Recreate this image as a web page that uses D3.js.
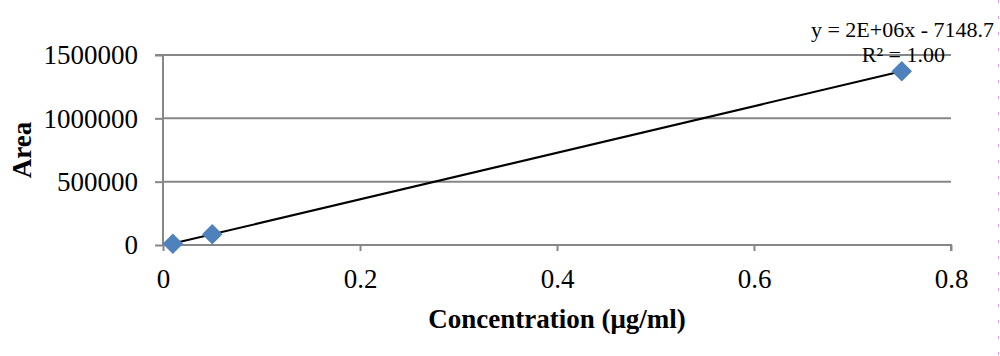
<!DOCTYPE html>
<html><head><meta charset="utf-8">
<script src="https://cdn.jsdelivr.net/npm/d3@7"></script>
<style>body{margin:0;background:#fff}svg{display:block}</style>
</head><body><svg id="c" width="1000" height="356"></svg>
<script>
const concentrations = [0.01, 0.05, 0.75];
const areas = [10000, 85000, 1372000];
const xTicks = [0, 0.2, 0.4, 0.6, 0.8];
const yTicks = [0, 500000, 1000000, 1500000];
const slope = 1838000, intercept = -7148.7;
const equationText = "y = 2E+06x - 7148.7";
const r2Text = "R\u00B2 = 1.00";

const svg = d3.select("#c");
const font = "'Liberation Serif','Times New Roman',serif";
const x = d3.scaleLinear().domain([0, 0.8]).range([163, 951]);
const y = d3.scaleLinear().domain([0, 1500000]).range([245, 55]);
const grid = "#878787";

// gridlines
svg.append("g").selectAll("line").data(yTicks.filter(d => d > 0)).join("line")
  .attr("x1", x(0)).attr("x2", x(0.8)).attr("y1", d => y(d)).attr("y2", d => y(d))
  .attr("stroke", grid).attr("stroke-width", 2);

// y axis
const ya = svg.append("g").attr("transform", `translate(${x(0)},0)`)
  .call(d3.axisLeft(y).tickValues(yTicks).tickFormat(d3.format("d")).tickSize(8).tickPadding(17));
ya.select(".domain").attr("stroke", grid).attr("stroke-width", 2).attr("d", `M-8,${y(1500000)}H0V${y(0)}`);
ya.selectAll(".tick line").attr("stroke", grid).attr("stroke-width", 2);
ya.selectAll("text").attr("font-family", font).attr("font-size", 27).attr("fill", "#000").attr("dy", "0.33em");

// x axis
const xa = svg.append("g").attr("transform", `translate(0,${y(0)})`)
  .call(d3.axisBottom(x).tickValues(xTicks).tickFormat(d => d === 0 ? "0" : d3.format(".1f")(d)).tickSize(6).tickPadding(18));
xa.select(".domain").attr("stroke", grid).attr("stroke-width", 2).attr("d", `M${x(0)},0H${x(0.8)}V6`);
xa.selectAll(".tick line").attr("stroke", grid).attr("stroke-width", 2);
xa.selectAll("text").attr("font-family", font).attr("font-size", 27).attr("fill", "#000");

// trendline
const xs = d3.extent(concentrations);
svg.append("line")
  .attr("x1", x(xs[0])).attr("y1", y(slope * xs[0] + intercept))
  .attr("x2", x(xs[1])).attr("y2", y(slope * xs[1] + intercept))
  .attr("stroke", "#000").attr("stroke-width", 2);

// points
svg.append("g").selectAll("path").data(concentrations).join("path")
  .attr("d", d3.symbol(d3.symbolSquare, 210))
  .attr("transform", (d, i) => `translate(${x(d)},${y(areas[i])}) rotate(45)`)
  .attr("fill", "#4F81BD");

// equation labels
svg.append("text").attr("x", 994).attr("y", 37).attr("text-anchor", "end")
  .attr("font-family", font).attr("font-size", 22).text(equationText);
svg.append("text").attr("x", 945).attr("y", 62).attr("text-anchor", "end")
  .attr("font-family", font).attr("font-size", 22).text(r2Text);

// axis titles
svg.append("text").attr("x", 557).attr("y", 328).attr("text-anchor", "middle")
  .attr("font-family", font).attr("font-size", 27).attr("font-weight", "bold").text("Concentration (\u03BCg/ml)");
svg.append("text").attr("transform", "translate(31,150) rotate(-90)").attr("text-anchor", "middle")
  .attr("font-family", font).attr("font-size", 27).attr("font-weight", "bold").text("Area");

// right edge dotted border
svg.append("line").attr("x1", 998.5).attr("x2", 998.5).attr("y1", 0).attr("y2", 356)
  .attr("stroke", "#d59be8").attr("stroke-width", 1).attr("stroke-dasharray", "3,13");
</script></body></html>
